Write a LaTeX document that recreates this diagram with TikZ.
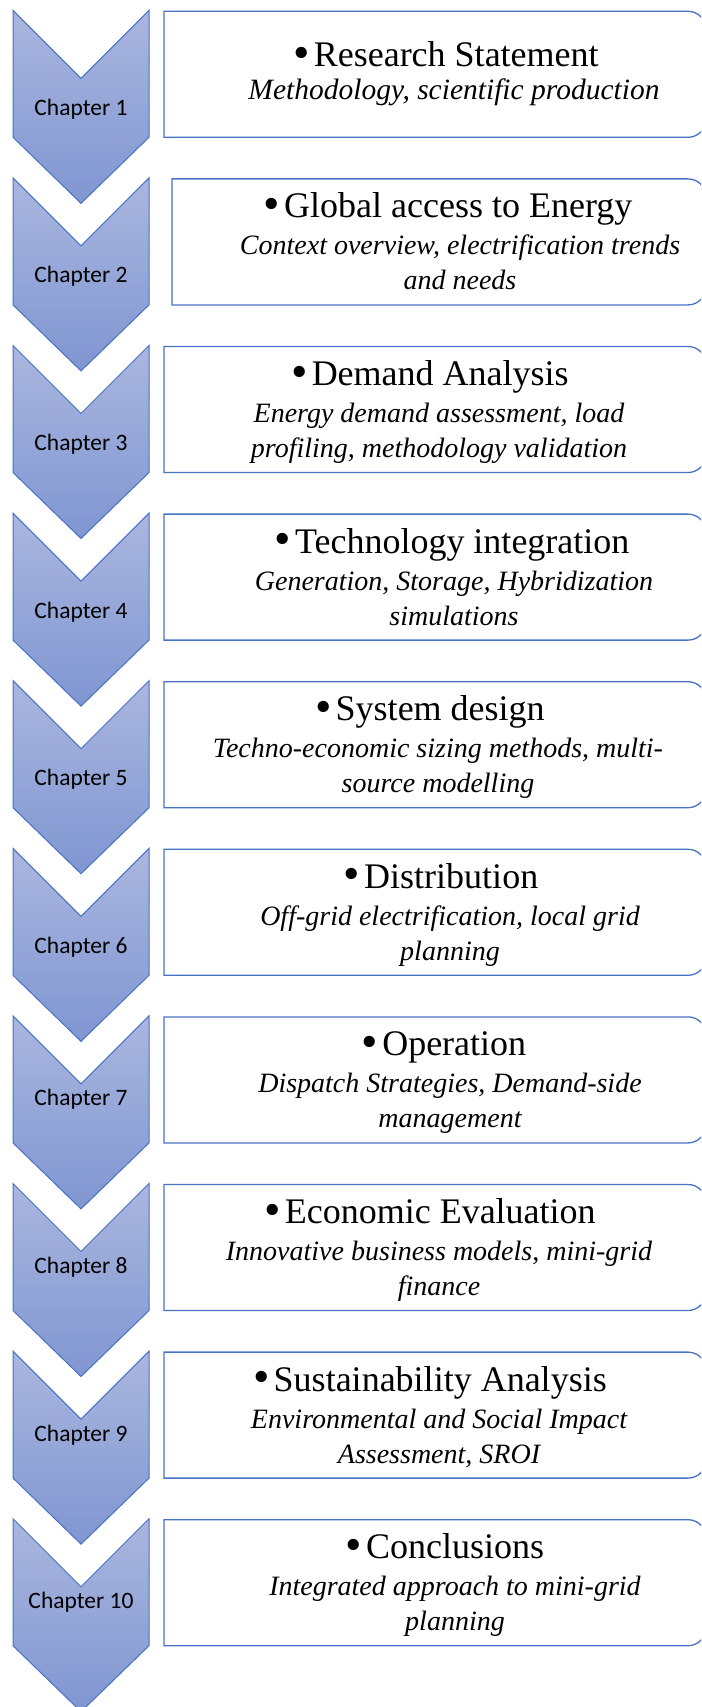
\documentclass[tikz,border=0pt]{standalone}
\usepackage{fontspec}
\setmainfont{Liberation Serif}
\newfontfamily\chapfont{Carlito}

\definecolor{edge}{RGB}{72,114,196}
\definecolor{chevtop}{RGB}{170,182,222}
\definecolor{chevbot}{RGB}{128,150,210}

\tikzset{
  chev/.style={top color=chevtop, bottom color=chevbot, draw=edge, line width=1pt, line join=miter},
  stagebox/.style={draw=edge, line width=1.3pt, fill=white},
  chaplabel/.style={font=\chapfont\fontsize{23.5}{28}\selectfont, anchor=base, inner sep=0pt},
  headline/.style={font=\fontsize{36}{40}\selectfont, anchor=base, inner sep=0pt},
  subline/.style={font=\itshape\fontsize{28}{33}\selectfont, anchor=base, inner sep=0pt},
}
\newcommand\bul{{\fontsize{47}{47}\selectfont\raisebox{-1.5pt}{\textbullet}}\kern4pt}

% #1 chapter, #2 box left edge, #3 title centre, #4 detail centre,
% #5 title, #6 first detail line, #7 second detail line, #8 label baseline offset
\newcommand\chapstage[8]{%
  \pgfmathsetmacro\yo{10.3+167.6*(#1-1)}%
  \pgfmathsetmacro\bt{\yo+1}%
  \pgfmathsetmacro\bb{\yo+127}%
  \path[chev] (13,\yo) -- (81,\yo+68) -- (149,\yo) -- (149,\yo+127)
     -- (81,\yo+193) -- (13,\yo+127) -- cycle;
  \node[chaplabel] (ch#1) at (81,\yo+#8) {Chapter #1};
  \draw[stagebox] (#2,\bt) -- (688,\bt) arc[start angle=-90,end angle=0,radius=18]
     -- (706,\bb-18) arc[start angle=0,end angle=90,radius=18] -- (#2,\bb) -- cycle;
  \node[headline] (t#1) at (#3,\bt+39) {\bul #5};
  \node[subline] (d#1a) at (#4,\bt+76) {#6};
  \node[subline] (d#1b) at (#4,\bt+111) {#7};
}

\begin{document}
\begin{tikzpicture}[x=1pt,y=-1pt]
  \fill[white] (0,0) rectangle (701,1707);
  \useasboundingbox (0,0) rectangle (701,1707);
  \clip (0,0) rectangle (701,1707);

  % chapter 1 has a single detail line
  \path[chev] (13,10.3) -- (81,78.3) -- (149,10.3) -- (149,137.3)
     -- (81,203.3) -- (13,137.3) -- cycle;
  \node[chaplabel] (ch1) at (81,115.3) {Chapter 1};
  \draw[stagebox] (164,11.3) -- (688,11.3) arc[start angle=-90,end angle=0,radius=18]
     -- (706,119.3) arc[start angle=0,end angle=90,radius=18] -- (164,137.3) -- cycle;
  \node[headline] (t1) at (446,67) {\bul Research Statement};
  \node[subline, font=\itshape\fontsize{29.5}{33}\selectfont] (d1a) at (454,100) {Methodology, scientific production};

  \chapstage{2}{172}{448}{460}{Global access to Energy}{Context overview, electrification trends}{and needs}{105}
  \chapstage{3}{164}{430}{439}{Demand Analysis}{Energy demand assessment, load}{profiling, methodology validation}{105}
  \chapstage{4}{164}{452}{454}{Technology integration}{Generation, Storage, Hybridization}{simulations}{105}
  \chapstage{5}{164}{430}{438}{System design}{Techno-economic sizing methods, multi-}{source modelling}{105}
  \chapstage{6}{164}{441}{450}{Distribution}{Off-grid electrification, local grid}{planning}{105}
  \chapstage{7}{164}{444}{450}{Operation}{Dispatch Strategies, Demand-side}{management}{90}
  \chapstage{8}{164}{430}{439}{Economic Evaluation}{Innovative business models, mini-grid}{finance}{90}
  \chapstage{9}{164}{430}{439}{Sustainability Analysis}{Environmental and Social Impact}{Assessment, SROI}{90}
  \chapstage{10}{164}{445}{455}{Conclusions}{Integrated approach to mini-grid}{planning}{90}
\end{tikzpicture}
\end{document}
